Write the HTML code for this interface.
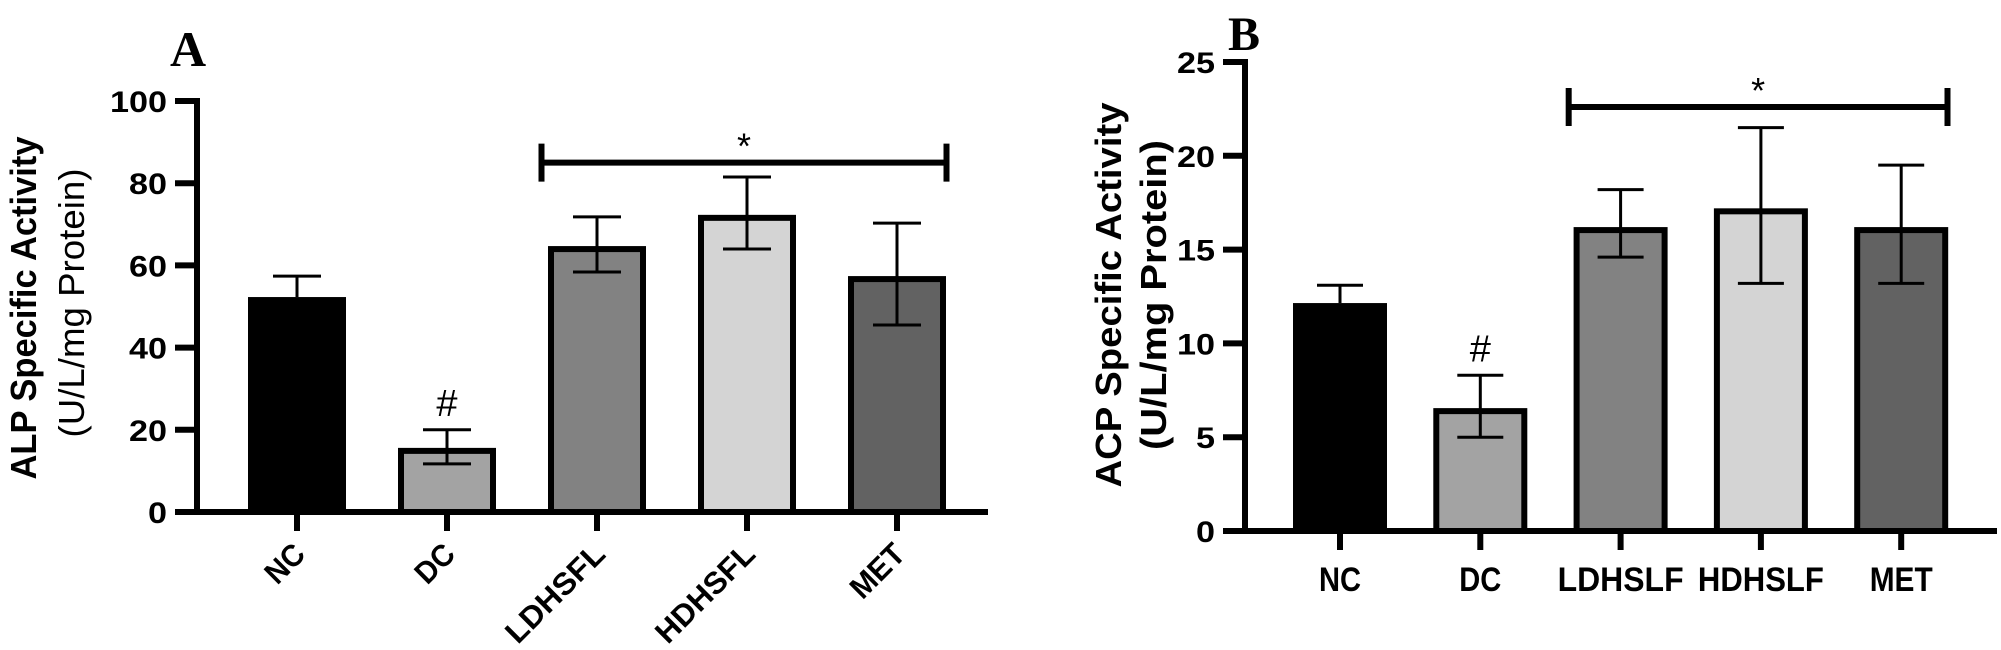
<!DOCTYPE html>
<html><head><meta charset="utf-8"><style>
html,body{margin:0;padding:0;background:#fff;width:2001px;height:650px;overflow:hidden}
svg{display:block}
text{font-family:"Liberation Sans",Arial,sans-serif}
</style></head><body>
<svg id="chart" width="2001" height="650" viewBox="0 0 2001 650" xmlns="http://www.w3.org/2000/svg">
<text x="170" y="66" style="font-family:'Liberation Serif',serif;font-weight:bold;font-size:50px">A</text>
<text x="1228" y="50" style="font-family:'Liberation Serif',serif;font-weight:bold;font-size:48px">B</text>
<g>
<text x="0" y="0" transform="translate(36,308) rotate(-90)" text-anchor="middle" font-weight="bold" font-size="36" textLength="343" lengthAdjust="spacingAndGlyphs">ALP Specific Activity</text>
<text x="0" y="0" transform="translate(84,303) rotate(-90)" text-anchor="middle" font-size="36" textLength="269" lengthAdjust="spacingAndGlyphs">(U/L/mg Protein)</text>
</g>
<g>
<text x="0" y="0" transform="translate(1121,295) rotate(-90)" text-anchor="middle" font-weight="bold" font-size="36" textLength="385" lengthAdjust="spacingAndGlyphs">ACP Specific Activity</text>
<text x="0" y="0" transform="translate(1166,295) rotate(-90)" text-anchor="middle" font-weight="bold" font-size="36" textLength="310" lengthAdjust="spacingAndGlyphs">(U/L/mg Protein)</text>
</g>
<g id="pa"></g>
<g id="pb"></g>
</svg>
<script>
const catsA = ["NC","DC","LDHSFL","HDHSFL","MET"];
const valsA = [52.3, 15.6, 64.7, 72.3, 57.4];
const errHiA = [57.4, 20.0, 71.8, 81.5, 70.3];
const errLoA = [52.3, 11.7, 58.4, 64.0, 45.5];
const ticksA = [0, 20, 40, 60, 80, 100];
const sigA = 85;

const catsB = ["NC","DC","LDHSLF","HDHSLF","MET"];
const valsB = [12.15, 6.55, 16.2, 17.2, 16.2];
const errHiB = [13.1, 8.3, 18.2, 21.5, 19.5];
const errLoB = [12.15, 5.0, 14.6, 13.2, 13.2];
const ticksB = [0, 5, 10, 15, 20, 25];
const sigB = 22.6;

const fills = ["#000000","#a3a3a3","#828282","#d4d4d4","#626262"];
const NS = "http://www.w3.org/2000/svg";

function mk(parent, tag, attrs, txt){
  const e = document.createElementNS(NS, tag);
  for (const k in attrs) e.setAttribute(k, attrs[k]);
  if (txt !== undefined) e.textContent = txt;
  parent.appendChild(e);
  return e;
}

function panel(g, cfg, cats, vals, hi, lo, ticks, sig){
  const y = v => cfg.y0 - (v - ticks[0]) / (ticks[ticks.length-1] - ticks[0]) * (cfg.y0 - cfg.y1);
  const x = i => cfg.xc0 + i * cfg.step;
  cats.forEach((c, i) => {
    const w = cfg.bw;
    const r = mk(g, "rect", {x: x(i) - w/2, y: y(vals[i]) + 3, width: w, height: Math.max(0, cfg.y0 - y(vals[i]) - 3), fill: fills[i], stroke: "#000", "stroke-width": 6});
    
    
    const eb = mk(g, "path", {d: `M${x(i)},${y(lo[i])}V${y(hi[i])}M${x(i)-cfg.cap},${y(hi[i])}H${x(i)+cfg.cap}` + (lo[i] < vals[i] ? `M${x(i)-cfg.cap},${y(lo[i])}H${x(i)+cfg.cap}` : ""), stroke: "#000", "stroke-width": 3, fill: "none"});
    
    
    const tk = mk(g, "line", {x1: x(i), x2: x(i), y1: cfg.y0, y2: cfg.y0 + 19, stroke: "#000", "stroke-width": 6});
    
    
    let lb;
    if (cfg.rot) {
      lb = mk(g, "text", {x: 0, y: 0, transform: `translate(${x(i)+10},${cfg.y0+44}) rotate(-45)`, "text-anchor": "end", "font-weight": "bold", "font-size": 31, textLength: c.length * 21, lengthAdjust: "spacingAndGlyphs"}, c);
    } else {
      lb = mk(g, "text", {x: x(i), y: cfg.y0 + 60, "text-anchor": "middle", "font-weight": "bold", "font-size": 34, textLength: c.length * 21, lengthAdjust: "spacingAndGlyphs"}, c);
    }
    
    
  });
  const ya = mk(g, "line", {x1: cfg.ax, x2: cfg.ax, y1: cfg.y1 - 3, y2: cfg.y0 + 3, stroke: "#000", "stroke-width": 6});
  
  
  const xa = mk(g, "line", {x1: cfg.ax - 22, x2: cfg.xend, y1: cfg.y0, y2: cfg.y0, stroke: "#000", "stroke-width": 6});
  
  
  ticks.forEach(t => {
    const l = mk(g, "line", {x1: cfg.ax - 22, x2: cfg.ax, y1: y(t), y2: y(t), stroke: "#000", "stroke-width": 6});
    
    
    const s = String(t);
    const tx = mk(g, "text", {x: cfg.ax - 30, y: y(t) + 11, "text-anchor": "end", "font-weight": "bold", "font-size": 30, textLength: s.length * 19, lengthAdjust: "spacingAndGlyphs"}, s);
    
    
  });
  const bx1 = x(2) - cfg.step * 0.37, bx2 = x(4) + cfg.step * 0.33, by = y(sig);
  const br = mk(g, "path", {d: `M${bx1},${by-19}V${by+19}M${bx1},${by}H${bx2}M${bx2},${by-19}V${by+19}`, stroke: "#000", "stroke-width": 6, fill: "none"});
  
  
  const st = mk(g, "text", {x: (bx1 + bx2) / 2, y: by - 4, "text-anchor": "middle", "font-size": 36}, "*");
  
  
  const hs = mk(g, "text", {x: x(1), y: y(hi[1]) - 14, "text-anchor": "middle", "font-size": 38}, "#");
  
  
}

panel(document.getElementById("pa"), {ax: 197, y0: 512, y1: 101, xc0: 297, step: 150, bw: 92, cap: 24, xend: 988, rot: true}, catsA, valsA, errHiA, errLoA, ticksA, sigA);
panel(document.getElementById("pb"), {ax: 1245, y0: 531, y1: 62, xc0: 1340, step: 140.3, bw: 88, cap: 23, xend: 1997, rot: false}, catsB, valsB, errHiB, errLoB, ticksB, sigB);
</script>
</body></html>
